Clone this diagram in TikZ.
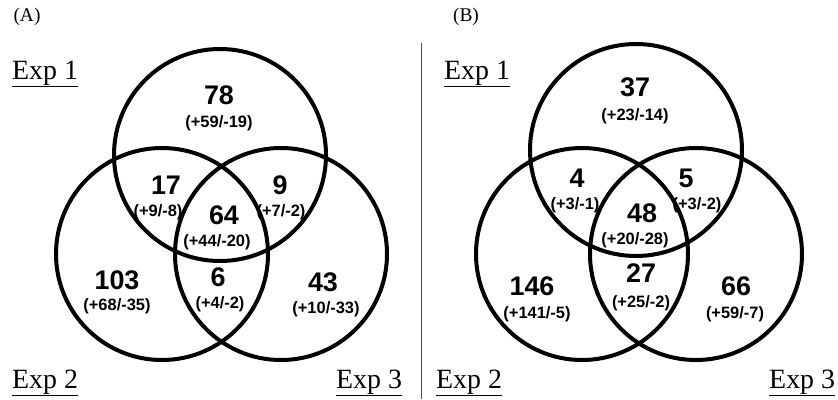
\documentclass[tikz,border=0pt]{standalone}
\usepackage{fontspec}
\setmainfont{Liberation Serif}
\newfontfamily\arialfont{Liberation Sans}
\begin{document}
\begin{tikzpicture}[x=1bp,y=-1bp,
  ring/.style={draw=black, line width=4bp, circle, minimum size=212bp, inner sep=0pt},
  big/.style={font=\arialfont\bfseries\fontsize{27}{27}\selectfont, inner sep=0pt},
  small/.style={font=\arialfont\bfseries\fontsize{16.5}{16.5}\selectfont, inner sep=0pt},
  explab/.style={font=\fontsize{28}{28}\selectfont, inner sep=0pt, anchor=base west},
  panel/.style={font=\fontsize{19.5}{19.5}\selectfont, inner sep=0pt}]
\useasboundingbox (0,0) rectangle (838,399);
\fill[white] (0,0) rectangle (838,399);

% ---------- Panel A ----------
\node[panel] (pA) at (27,17) {(A)};
\node[ring] (a1) at (220,155) {};
\node[ring] (a2) at (162,254) {};
\node[ring] (a3) at (281,254) {};
\node[explab] (aE1) at (12,79) {\underline{Exp 1}};
\node[explab] (aE2) at (12,388) {\underline{Exp 2}};
\node[explab] (aE3) at (336,388) {\underline{Exp 3}};

\node[big] (a78) at (219,95) {78};
\node[small] (a78s) at (219,123) {(+59/-19)};
\node[big] (a17) at (166,185) {17};
\node[small] (a17s) at (158,212) {(+9/-8)};
\node[big] (a9) at (280,185) {9};
\node[small] (a9s) at (281,212) {(+7/-2)};
\node[big] (a64) at (224,215) {64};
\node[small] (a64s) at (217,242) {(+44/-20)};
\node[big] (a103) at (117,280) {103};
\node[small] (a103s) at (117,306) {(+68/-35)};
\node[big] (a6) at (218,277) {6};
\node[small] (a6s) at (220,304) {(+4/-2)};
\node[big] (a43) at (323,282) {43};
\node[small] (a43s) at (326,309) {(+10/-33)};

% ---------- divider ----------
\coordinate (dtop) at (421,43);
\coordinate (dbot) at (421,399);
\draw[black!70, line width=0.8bp] (dtop) -- (dbot);

% ---------- Panel B ----------
\node[panel] (pB) at (466,17) {(B)};
\node[ring] (b1) at (636,150) {};
\node[ring] (b2) at (582,254) {};
\node[ring] (b3) at (696,254) {};
\node[explab] (bE1) at (444,79) {\underline{Exp 1}};
\node[explab] (bE2) at (436,388) {\underline{Exp 2}};
\node[explab] (bE3) at (769,388) {\underline{Exp 3}};

\node[big] (b37) at (635,87) {37};
\node[small] (b37s) at (635,116) {(+23/-14)};
\node[big] (b4) at (577,178) {4};
\node[small] (b4s) at (575,205) {(+3/-1)};
\node[big] (b5) at (686,178) {5};
\node[small] (b5s) at (697,205) {(+3/-2)};
\node[big] (b48) at (642,213) {48};
\node[small] (b48s) at (635,240) {(+20/-28)};
\node[big] (b146) at (532,286) {146};
\node[small] (b146s) at (537,314) {(+141/-5)};
\node[big] (b27) at (641,273) {27};
\node[small] (b27s) at (641,303) {(+25/-2)};
\node[big] (b66) at (736,286) {66};
\node[small] (b66s) at (735,314) {(+59/-7)};
\end{tikzpicture}
\end{document}
